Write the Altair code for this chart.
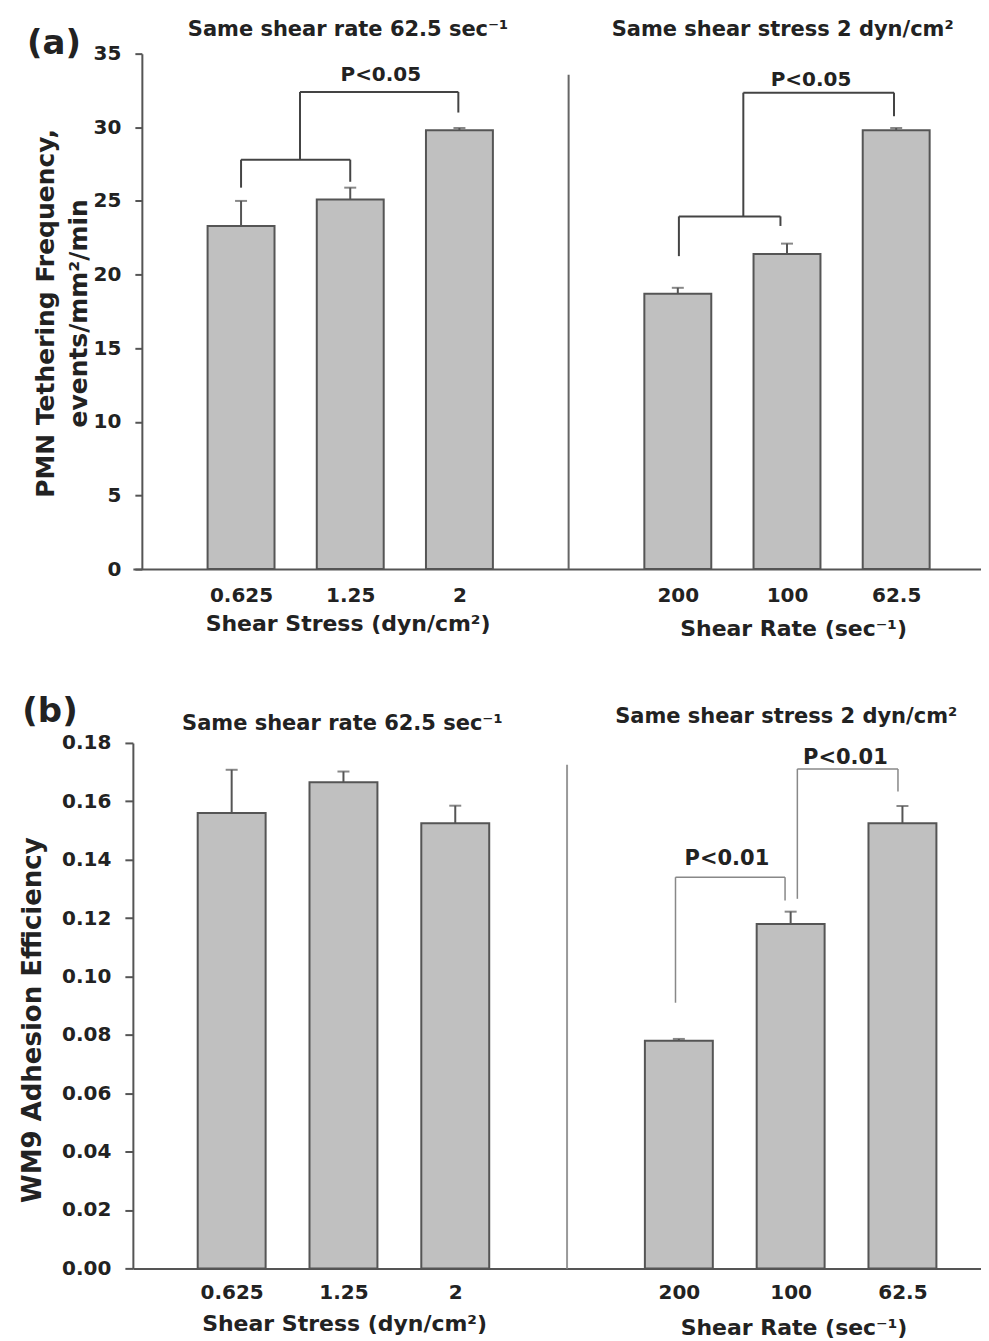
import altair as alt
import pandas as pd

# ---------------- data ----------------
positions = [0, 1, 2, 4, 5, 6]          # bar slots (slot 3 = gap between the two groups)
tick_labels = ["0.625", "1.25", "2", "200", "100", "62.5"]

# Panel (a): PMN tethering frequency (events/mm^2/min)
a_mean = [23.3, 25.1, 29.8, 18.7, 21.4, 29.8]
a_sem = [1.7, 0.8, 0.15, 0.4, 0.7, 0.15]

# Panel (b): WM9 adhesion efficiency
b_mean = [0.156, 0.1665, 0.1525, 0.078, 0.118, 0.1525]
b_sem = [0.0148, 0.0037, 0.006, 0.0006, 0.0042, 0.0059]

hdr_rate = "Same shear rate 62.5 sec⁻¹"
hdr_stress = "Same shear stress 2 dyn/cm²"
xt_stress = "Shear Stress (dyn/cm²)"
xt_rate = "Shear Rate (sec⁻¹)"

# significance brackets (bar-slot units on x, data units on y)
a_br_x = [0, 0, 1, 0.54, 0.54, 1.99, 4.01, 4.01, 4.94, 4.6, 4.6, 5.98]
a_br_x2 = [0, 1, 1, 0.54, 1.99, 1.99, 4.01, 4.94, 4.94, 4.6, 5.98, 5.98]
a_br_y = [25.9, 27.8, 26.3, 27.8, 32.4, 31.0, 21.25, 23.95, 23.3, 23.95, 32.35, 30.75]
a_br_y2 = [27.8, 27.8, 27.8, 32.4, 32.4, 32.4, 23.95, 23.95, 23.95, 32.35, 32.35, 32.35]
a_p_x = [1.28, 5.22]
a_p_y = [33.57, 33.24]
a_p_txt = ["P<0.05", "P<0.05"]

b_br_x = [3.97, 3.97, 4.95, 5.06, 5.06, 5.96]
b_br_x2 = [3.97, 4.95, 4.95, 5.06, 5.96, 5.96]
b_br_y = [0.091, 0.134, 0.126, 0.1266, 0.1711, 0.1634]
b_br_y2 = [0.134, 0.134, 0.134, 0.1711, 0.1711, 0.1711]
b_p_x = [4.43, 5.49]
b_p_y = [0.1402, 0.1748]
b_p_txt = ["P<0.01", "P<0.01"]

FONT = "DejaVu Sans"
INK = "#222222"
AXC = "#555555"


def build_panel(mean, sem, xdom, ydom, height, yvals, yfmt, ytitle, ytitle_fs,
                ytitle_x, ytitle_y, yoffset, ytick,
                brx, brx2, bry, bry2, br_color, br_width,
                px, py, ptxt, p_fs,
                sep_top, sep_color,
                hdr_x, hdr_y, xt_x, xt_y, plabel, pl_x, pl_y,
                bar_size, xlab_pad, width):
    xsc = alt.Scale(domain=xdom, nice=False, zero=False)
    ysc = alt.Scale(domain=ydom, nice=False, zero=False)
    lab = dict(zip(positions, tick_labels))
    arr = [lab.get(i, "") for i in range(7)]
    label_expr = "[" + ",".join("'" + s + "'" for s in arr) + "][datum.value]"

    xaxis = alt.Axis(values=positions, labelExpr=label_expr, ticks=False, grid=False,
                     title=None, domainColor=AXC, domainWidth=2, labelFont=FONT,
                     labelFontWeight="bold", labelFontSize=20, labelColor=INK,
                     labelPadding=xlab_pad, labelFlush=False, labelOverlap=False)
    yaxis = alt.Axis(values=yvals, format=yfmt, grid=False, title=ytitle,
                     titleFont=FONT, titleFontWeight="bold", titleFontSize=ytitle_fs,
                     titleColor=INK, titleX=ytitle_x, titleY=ytitle_y, titleAngle=270,
                     titleBaseline="middle", titleAlign="center", titleLineHeight=33,
                     domainColor=AXC, domainWidth=2, tickColor=AXC, tickWidth=2,
                     tickSize=ytick, labelFont=FONT, labelFontWeight="bold",
                     labelFontSize=20, labelColor=INK, labelPadding=14,
                     offset=yoffset, labelFlush=False, labelOverlap=False)

    def X(f):
        return alt.X(f, scale=xsc, axis=xaxis)

    def Y(f):
        return alt.Y(f, scale=ysc, axis=yaxis)

    bars_df = pd.DataFrame({
        "pos": positions,
        "mean": mean,
        "lo": [m - s for m, s in zip(mean, sem)],
        "hi": [m + s for m, s in zip(mean, sem)],
    })

    err = alt.Chart(bars_df).mark_errorbar(
        orient="vertical", ticks=True, size=12, thickness=2, color=AXC
    ).encode(x=X("pos:Q"), y=Y("lo:Q"), y2="hi:Q")

    bars = alt.Chart(bars_df).mark_bar(
        size=bar_size, fill="#c0c0c0", stroke=AXC, strokeWidth=2
    ).encode(x=X("pos:Q"), y=Y("mean:Q"))

    sep = alt.Chart(pd.DataFrame({"x": [3], "y0": [ydom[0]], "y1": [sep_top]})).mark_rule(
        color=sep_color, strokeWidth=2
    ).encode(x=X("x:Q"), y=Y("y0:Q"), y2="y1:Q")

    br = alt.Chart(pd.DataFrame({"x": brx, "x2": brx2, "y": bry, "y2": bry2})).mark_rule(
        color=br_color, strokeWidth=br_width
    ).encode(x=X("x:Q"), x2="x2:Q", y=Y("y:Q"), y2="y2:Q")

    def txt(xs, ys, ts, fs, **kw):
        return alt.Chart(pd.DataFrame({"x": xs, "y": ys, "t": ts})).mark_text(
            font=FONT, fontWeight="bold", fontSize=fs, color=INK,
            align="center", baseline="middle", **kw
        ).encode(x=X("x:Q"), y=Y("y:Q"), text="t:N")

    ptext = txt(px, py, ptxt, p_fs)
    hdrs = txt(hdr_x, hdr_y, [hdr_rate, hdr_stress], 21)
    xts = txt(xt_x, xt_y, [xt_stress, xt_rate], 22)
    pl = txt([pl_x], [pl_y], [plabel], 34)

    return alt.layer(err, bars, sep, br, ptext, hdrs, xts, pl).properties(
        width=width, height=height
    )


W = 849
pa = build_panel(
    a_mean, a_sem, [-0.945, 6.731], [0, 35], 516, list(range(0, 36, 5)), "d",
    ["PMN Tethering Frequency,", "events/mm²/min"], 25, -96.5, 259.5, -9, 7,
    a_br_x, a_br_x2, a_br_y, a_br_y2, "#444444", 2,
    a_p_x, a_p_y, a_p_txt, 20,
    33.57, "#666666",
    [0.98, 4.96], [36.63, 36.63], [0.98, 5.06], [-3.73, -4.07], "(a)", -1.713, 35.68,
    67, 16, W,
)

pb = build_panel(
    b_mean, b_sem, [-0.839, 6.658], [0, 0.18], 526, [round(0.02 * i, 2) for i in range(10)], ".2f",
    "WM9 Adhesion Efficiency", 26, -100, 277, 0, 8,
    b_br_x, b_br_x2, b_br_y, b_br_y2, "#888888", 1.5,
    b_p_x, b_p_y, b_p_txt, 21,
    0.1725, "#999999",
    [0.99, 4.96], [0.1865, 0.1889], [1.01, 5.03], [-0.01917, -0.02053], "(b)", -1.625, 0.1906,
    68, 14, W,
)

chart = alt.vconcat(pa, pb, spacing=54).properties(
    padding={"left": 12, "top": 9, "right": 0, "bottom": 0},
    background="white",
).configure_view(stroke=None)

chart.save("out.html", embed_options={"renderer": "svg", "actions": False})
